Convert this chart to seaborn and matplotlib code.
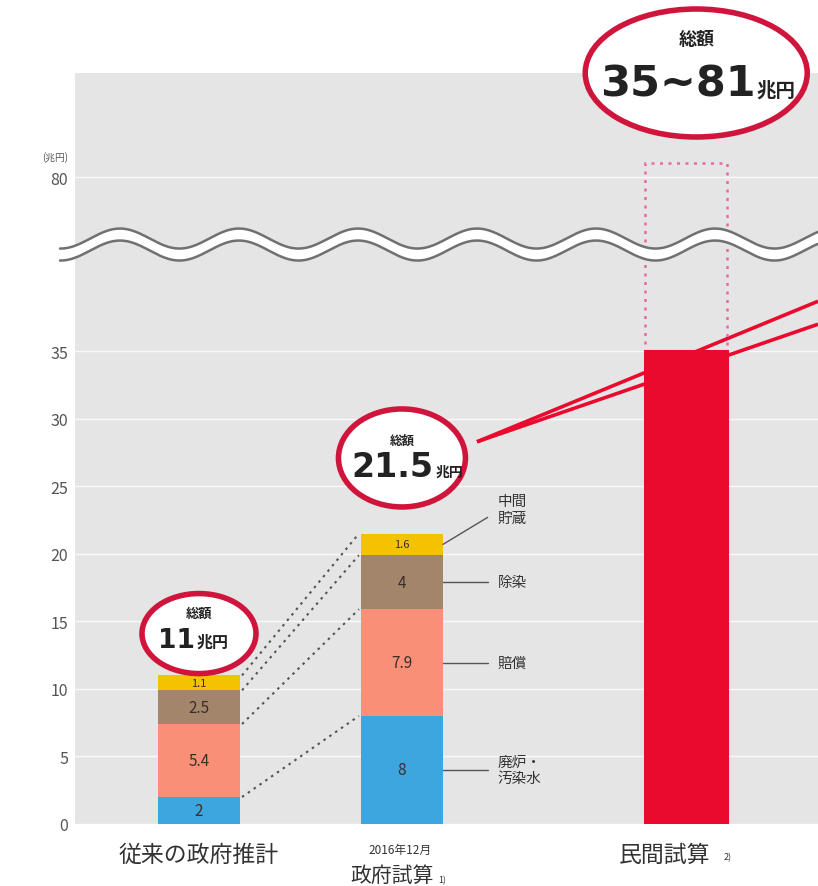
import numpy as np
import pandas as pd
import matplotlib
matplotlib.use("Agg")
import matplotlib.pyplot as plt
import matplotlib.transforms as mtransforms
from matplotlib.patches import Ellipse
import seaborn as sns

# ---------------- data ----------------
estimate_names = ["従来の政府推計", "2016年12月 政府試算", "民間試算"]
components = ["廃炉・汚染水", "賠償", "除染", "中間貯蔵"]
component_labels = ["廃炉・\n汚染水", "賠償", "除染", "中間\n貯蔵"]
old_gov = [2.0, 5.4, 2.5, 1.1]          # 従来の政府推計 (total 11)
new_gov = [8.0, 7.9, 4.0, 1.6]          # 2016年12月 政府試算 (total 21.5)
old_value_text = ["2", "5.4", "2.5", "1.1"]
new_value_text = ["8", "7.9", "4", "1.6"]
private_low = [35.0]                    # 民間試算 lower bound
private_high = [81.0]                   # 民間試算 upper bound
total_text = ["11", "21.5", "35~81"]
y_ticks = [0, 5, 10, 15, 20, 25, 30, 35, 80]
y_tick_labels = ["0", "5", "10", "15", "20", "25", "30", "35", "80"]

# ---------------- style ----------------
sns.set_style("white")
plt.rcParams["font.family"] = ["Noto Sans CJK JP", "DejaVu Sans"]

colors = {"廃炉・汚染水": "#3ea6df", "賠償": "#f98f77", "除染": "#a3856b", "中間貯蔵": "#f4c300"}
RED = "#ea0a2e"
PINK = "#e66aa5"
RING = "#d0153d"
BG = "#e5e5e5"
TXT = "#333333"

# layout
x_pos = [0.0, 1.0, 2.4]
BAR_W = 0.404

# broken y scale (collapse the range between 42 and 75.9)
A, SHIFT, B = 42.0, 32.1, 75.9
PB = B - SHIFT


def fwd(y):
    y = np.asarray(y, dtype=float)
    return np.where(y <= A, y, np.where(y >= B, y - SHIFT, A + (y - A) * (PB - A) / (B - A)))


def inv(p):
    p = np.asarray(p, dtype=float)
    return np.where(p <= A, p, np.where(p >= PB, p + SHIFT, A + (p - A) * (B - A) / (PB - A)))


fig = plt.figure(figsize=(8.18, 8.87), dpi=100)
ax = fig.add_axes([75 / 818, 62 / 887, 743 / 818, 751 / 887])
ax.set_facecolor(BG)
ax.set_yscale("function", functions=(fwd, inv))
YMAX = 87.7
ax.set_ylim(0, YMAX)

# ---------------- stacked bars ----------------
df = pd.DataFrame({
    "x": [x_pos[0]] * 4 + [x_pos[1]] * 4,
    "component": components * 2,
    "value": old_gov + new_gov,
})
df["top"] = df.groupby("x")["value"].cumsum()
df["mid"] = df["top"] - df["value"] / 2

for comp in reversed(components):
    sub = df[df["component"] == comp]
    sns.barplot(data=sub, x="x", y="top", native_scale=True, width=BAR_W,
                color=colors[comp], saturation=1, errorbar=None, linewidth=0,
                ax=ax, zorder=2)

# private estimate: dotted range outline and solid lower bound
priv = pd.DataFrame({"x": [x_pos[2]], "low": private_low, "high": private_high})
sns.barplot(data=priv, x="x", y="high", native_scale=True, width=BAR_W, fill=False,
            color=PINK, linestyle=(0, (1.2, 2.2)), linewidth=1.8, errorbar=None,
            ax=ax, zorder=1.2)
sns.barplot(data=priv, x="x", y="low", native_scale=True, width=BAR_W,
            color=RED, saturation=1, errorbar=None, linewidth=2.2, edgecolor=RED,
            ax=ax, zorder=2)

# ---------------- axes ----------------
ax.set_xlim(-0.611, 3.05)
ax.set_ylim(0, YMAX)
ax.set_yticks(y_ticks)
ax.set_yticklabels(y_tick_labels)
ax.set_xticks([])
ax.set_xlabel("")
ax.set_ylabel("")
ax.tick_params(axis="y", length=0, pad=5, labelsize=11.5, labelcolor="#555555")
for s in ax.spines.values():
    s.set_visible(False)
ax.yaxis.grid(True, color="white", linewidth=1.0, alpha=0.8)
ax.set_axisbelow(True)
ax.annotate("(兆円)", xy=(0, 80), xycoords=("axes fraction", "data"),
            xytext=(-5, 15), textcoords="offset points", ha="right", va="center",
            fontsize=7, color="#555555")

# value labels within segments
for sub, texts in ((df[df["x"] == x_pos[0]], old_value_text), (df[df["x"] == x_pos[1]], new_value_text)):
    for (_, r), t in zip(sub.iterrows(), texts):
        fs = 8 if r["value"] < 2 else 11
        ax.text(r["x"], r["mid"], t, ha="center", va="center", fontsize=fs,
                color="#3a2e28", zorder=3)

# dotted connectors between the two government estimates
old_tops = df[df["x"] == x_pos[0]]["top"].to_numpy()
new_tops = df[df["x"] == x_pos[1]]["top"].to_numpy()
for a, b in zip(old_tops, new_tops):
    ax.plot([x_pos[0] + BAR_W / 2 + 0.01, x_pos[1] - BAR_W / 2 - 0.01], [a, b],
            linestyle=(0, (1.2, 2.2)), color="#555555", linewidth=1.5, zorder=2.5)

# component labels with leader lines (right of 2016 bar)
new_sub = df[df["x"] == x_pos[1]]
label_y = list(new_sub["mid"].to_numpy())
label_y[-1] = new_tops[-1] + 1.8
x_edge = x_pos[1] + BAR_W / 2
for m, ly, lab in zip(new_sub["mid"], label_y, component_labels):
    ax.plot([x_edge, x_edge + 0.22], [m, ly - 0.6 if ly != m else m], color="#555555",
            linewidth=1.0, zorder=2.5)
    ax.text(x_edge + 0.27, ly, lab, ha="left", va="center", fontsize=10.5,
            color=TXT, linespacing=1.25, zorder=3)

# red lines from the 21.5 badge to the right
for y_end in (38.7, 37.0):
    ax.plot([1.37, 3.05], [28.3, y_end], color=RED, linewidth=2.6, zorder=1.1,
            solid_capstyle="butt")

# ---------------- wavy axis break ----------------
xs_px = np.linspace(60, 818, 800)
xa = (xs_px - 75) / 743
center = ((A + PB) / 2) / float(fwd(YMAX))
amp = 10 / 751
sep = 12 / 751 / 2
wave = amp * np.cos(2 * np.pi * (xs_px - 120) / 119)
upper = center + sep + wave
lower = center - sep + wave
ax.fill_between(xa, lower, upper, color="white", transform=ax.transAxes,
                clip_on=False, zorder=5, linewidth=0)
ax.plot(xa, upper, color="#707070", linewidth=1.8, transform=ax.transAxes,
        clip_on=False, zorder=6)
ax.plot(xa, lower, color="#707070", linewidth=1.8, transform=ax.transAxes,
        clip_on=False, zorder=6)

# ---------------- total badges ----------------
badges = [
    # x, y (data), width px, height px, number size, title size, yen size,
    # title dy px, number baseline dy px, split dx px
    (x_pos[0], 14.1, 114, 80, 19, 9.5, 11.5, 21, -13, -4, total_text[0]),
    (x_pos[1], 27.1, 127, 98, 24, 9, 10, 18, -18, 32, total_text[1]),
    (2.45, 87.7, 222, 128, 31, 13, 14, 34, -23, 59, total_text[2]),
]
PT = 0.72
for bx, by, w, h, nfs, tfs, yfs, tdy, ndy, sdx, num in badges:
    tr = fig.dpi_scale_trans + mtransforms.ScaledTranslation(bx, by, ax.transData)
    e = Ellipse((0, 0), w / 100, h / 100, transform=tr, facecolor="white",
                edgecolor=RING, linewidth=4, zorder=7, clip_on=False)
    ax.add_artist(e)
    ax.annotate("総額", xy=(bx, by), xycoords="data", xytext=(0, tdy * PT),
                textcoords="offset points", ha="center", va="center",
                fontsize=tfs, fontweight="bold", color="#222222", zorder=8,
                annotation_clip=False)
    ax.annotate(num, xy=(bx, by), xycoords="data", xytext=(sdx * PT, ndy * PT),
                textcoords="offset points", ha="right", va="baseline",
                fontsize=nfs, fontweight="bold", family=["DejaVu Sans"],
                color="#222222", zorder=8, annotation_clip=False)
    ax.annotate("兆円", xy=(bx, by), xycoords="data", xytext=(sdx * PT + 1, ndy * PT),
                textcoords="offset points", ha="left", va="baseline",
                fontsize=yfs, fontweight="bold", color="#222222", zorder=8,
                annotation_clip=False)

# ---------------- x category labels ----------------
def xlabel(x, text, dx_px, dy_px, fs, ha="center"):
    ax.annotate(text, xy=(x, 0), xycoords=("data", "axes fraction"),
                xytext=(dx_px * PT, dy_px * PT), textcoords="offset points",
                ha=ha, va="center", fontsize=fs, color="#333333", annotation_clip=False)


xlabel(x_pos[0], "従来の政府推計", 0, -30, 16.5)
xlabel(x_pos[1], "2016年12月", -2, -25, 8.5)
xlabel(x_pos[1], "政府試算", -10, -51, 15)
xlabel(x_pos[1], "1)", 36, -56, 6.5, ha="left")
xlabel(x_pos[2], "民間試算", -22, -30, 16.5)
xlabel(x_pos[2], "2)", 38, -33, 6.5, ha="left")

fig.savefig("out.png", dpi=100, facecolor="white")
